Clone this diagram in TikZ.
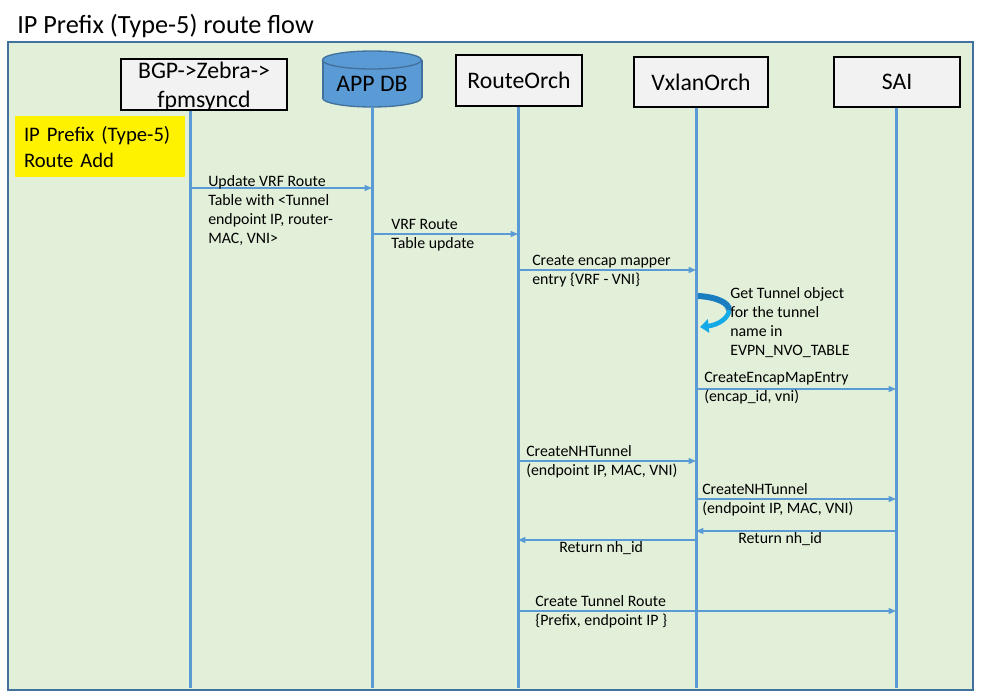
\documentclass[tikz,border=0pt]{standalone}
\usepackage{fontspec}
\setmainfont{Carlito}
\usetikzlibrary{arrows.meta}

\definecolor{bggreen}{HTML}{E2F0D9}
\definecolor{frameblue}{HTML}{41719C}
\definecolor{lifeblue}{HTML}{5B9BD5}
\definecolor{boxgray}{HTML}{F2F2F2}
\definecolor{loopdark}{HTML}{1A7DC0}
\definecolor{looplight}{HTML}{14AAE8}

\begin{document}
\begin{tikzpicture}[x=0.75pt,y=-0.75pt,
    actor/.style={draw=black,line width=1pt,fill=boxgray,align=center,
        font=\fontsize{17.8}{21.75}\selectfont,inner sep=0pt},
    life/.style={draw=lifeblue,line width=2.25pt},
    msg/.style={draw=lifeblue,line width=0.9pt,-{Triangle[length=5.5pt,width=4.5pt]}},
    msgtxt/.style={font=\fontsize{11.9}{14.25}\selectfont,align=left,inner sep=0pt,anchor=west},
    dbshape/.style={fill=lifeblue,draw=frameblue,line width=1pt}]

\useasboundingbox (0,0) rectangle (983,692);
\node[anchor=base west,inner sep=0pt,font=\fontsize{19.7}{23}\selectfont] (title) at (17,34) {IP Prefix (Type-5) route flow};
\draw[fill=bggreen,draw=frameblue,line width=1pt] (8,42) rectangle (973,690);

% note on the left
\node[fill=yellow,minimum width=127.5pt,minimum height=45.75pt,text width=114pt,inner xsep=6.75pt,inner ysep=0pt,
    align=left,font=\fontsize{15.5}{19.5}\selectfont] (note) at (100,147) {IP Prefix (Type-5)\\Route Add};

% participants
\node[actor,minimum width=124.5pt,minimum height=38.25pt,text depth=0pt] (bgp) at (204,84.5) {BGP->Zebra->\\fpmsyncd};
\node[actor,minimum width=94.5pt,minimum height=38.25pt] (route) at (519,80.5) {RouteOrch};
\node[actor,minimum width=100.5pt,minimum height=37.5pt] (vxlan) at (701,82) {VxlanOrch};
\node[actor,minimum width=94.5pt,minimum height=37.5pt] (sai) at (897,82) {SAI};

% APP DB cylinder
\draw[dbshape] (372,98) ellipse (49.5 and 9);
\fill[lifeblue] (323,60) rectangle (422,98);
\draw[frameblue,line width=1pt] (323,60) -- (323,98) (422,60) -- (422,98);
\draw[dbshape] (372,60) ellipse (49.5 and 9);
\node[font=\fontsize{17.8}{21}\selectfont,minimum height=34.5pt,inner sep=0pt] (appdb) at (372,84) {APP DB};

% lifelines
\coordinate (bgpE) at (190,688);
\coordinate (appE) at (372,688);
\coordinate (routeE) at (518,688);
\coordinate (vxlanE) at (696,688);
\coordinate (saiE) at (896,688);
\draw[life] (bgpE |- bgp.south) -- (bgpE);
\draw[life] (appE |- appdb.south) -- (appE);
\draw[life] (routeE |- route.south) -- (routeE);
\draw[life] (vxlanE |- vxlan.south) -- (vxlanE);
\draw[life] (saiE |- sai.south) -- (saiE);

% messages
\draw[msg] (bgpE |- 0,188) -- (appE |- 0,188);
\node[msgtxt] (m1) at (208,210.5) {Update VRF Route\\Table with <Tunnel\\endpoint IP, router-\\MAC, VNI>};
\draw[msg] (appE |- 0,234) -- (routeE |- 0,234);
\node[msgtxt] (m2) at (391,235.5) {VRF Route\\Table update};
\draw[msg] (routeE |- 0,270) -- (vxlanE |- 0,270);
\node[msgtxt] (m3) at (532,271) {Create encap mapper\\entry \{VRF - VNI\}};

% self call on VxlanOrch
\coordinate (loopS) at (698,296);
\coordinate (loopM) at (729,310);
\coordinate (loopE) at (700,327);
\draw[loopdark,line width=4.5pt] (loopS) .. controls (717,297) and (729,303) .. (loopM);
\draw[looplight,line width=3.5pt,-{Triangle[length=6.5pt,width=10pt]}] (loopM) .. controls (729,318) and (718,325) .. (loopE);
\node[msgtxt] (m4) at (730,323) {Get Tunnel object\\for the tunnel\\name in\\EVPN\_NVO\_TABLE};

\draw[msg] (vxlanE |- 0,389) -- (saiE |- 0,389);
\node[msgtxt] (m5) at (704,388.5) {CreateEncapMapEntry\\(encap\_id, vni)};
\draw[msg] (routeE |- 0,461) -- (vxlanE |- 0,461);
\node[msgtxt] (m6) at (526,461.5) {CreateNHTunnel\\(endpoint IP, MAC, VNI)};
\draw[msg] (vxlanE |- 0,499) -- (saiE |- 0,499);
\node[msgtxt] (m7) at (702,499.5) {CreateNHTunnel\\(endpoint IP, MAC, VNI)};
\draw[msg] (saiE |- 0,531) -- (vxlanE |- 0,531);
\node[msgtxt] (m8) at (738,539) {Return nh\_id};
\draw[msg] (vxlanE |- 0,540) -- (routeE |- 0,540);
\node[msgtxt] (m9) at (559,548) {Return nh\_id};
\draw[msg] (routeE |- 0,611) -- (saiE |- 0,611);
\node[msgtxt] (m10) at (535,611.5) {Create Tunnel Route\\\{Prefix, endpoint IP \}};
\end{tikzpicture}
\end{document}
